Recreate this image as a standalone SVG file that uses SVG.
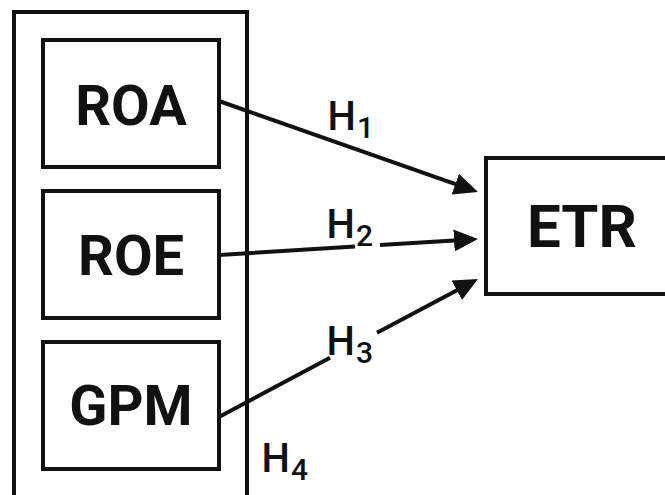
<svg xmlns="http://www.w3.org/2000/svg" width="665" height="495" viewBox="0 0 665 495">
  <style>
    .box { fill: none; stroke: #111; stroke-width: 4; }
    .node { font-family: Roboto, "Liberation Sans", Arial, sans-serif; font-weight: 700; fill: #111; text-anchor: middle; }
    .conn { fill: none; stroke: #111; stroke-width: 4; }
    .lbl { font-family: Roboto, "Liberation Sans", Arial, sans-serif; font-weight: 500; font-size: 40px; fill: #111; }
    .sub { font-size: 30px; }
  </style>
  <defs>
    <marker id="arrow" markerUnits="userSpaceOnUse" viewBox="0 0 24 22" markerWidth="24" markerHeight="22" refX="4" refY="11" orient="auto">
      <path d="M0,0 L24,11 L0,22 z" fill="#111"/>
    </marker>
  </defs>
  <rect width="665" height="495" fill="#fff"/>

  <g id="group-independent">
    <rect class="box" x="14" y="12" width="233" height="500"/>
  </g>
  <g id="node-roa">
    <rect class="box" x="43" y="40" width="176" height="127"/>
    <text class="node" x="131" y="125" font-size="56">ROA</text>
  </g>
  <g id="node-roe">
    <rect class="box" x="43" y="191" width="176" height="127"/>
    <text class="node" x="131" y="275" font-size="56">ROE</text>
  </g>
  <g id="node-gpm">
    <rect class="box" x="43" y="342" width="176" height="127"/>
    <text class="node" x="131" y="425" font-size="56">GPM</text>
  </g>
  <g id="node-etr">
    <rect class="box" x="486" y="158" width="200" height="136"/>
    <text class="node" x="582" y="247" font-size="60">ETR</text>
  </g>

  <g id="connectors">
    <path class="conn" d="M219,101 L459.1,185.4" marker-end="url(#arrow)"/>
    <path class="conn" d="M219,255 L355,246.6 M380,245.1 L458,240.2" marker-end="url(#arrow)"/>
    <path class="conn" d="M219,417 L330,357.8 M377,332.8 L460.3,288.4" marker-end="url(#arrow)"/>
  </g>

  <g id="labels">
    <text class="lbl" x="327.5" y="130">H<tspan class="sub" dx="1" dy="8">1</tspan></text>
    <text class="lbl" x="326.5" y="238">H<tspan class="sub" dx="1" dy="8">2</tspan></text>
    <text class="lbl" x="326.5" y="355">H<tspan class="sub" dx="1" dy="8">3</tspan></text>
    <text class="lbl" x="261.5" y="472">H<tspan class="sub" dx="1" dy="8">4</tspan></text>
  </g>
</svg>
